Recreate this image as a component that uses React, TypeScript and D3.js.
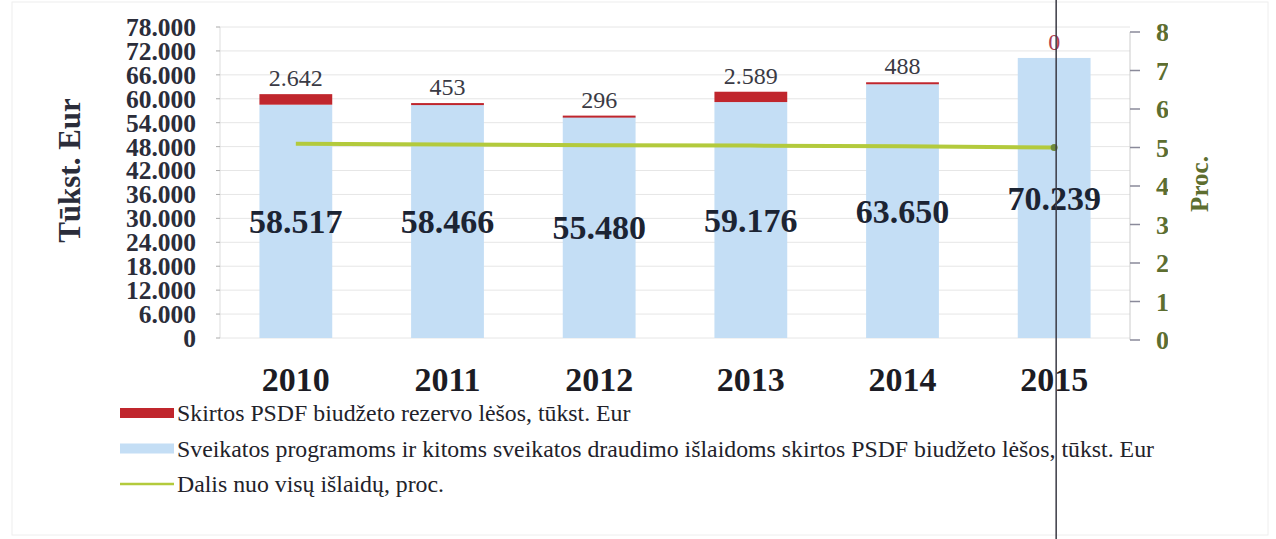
import * as d3 from 'd3';

const years = ['2010', '2011', '2012', '2013', '2014', '2015'];
// Sveikatos programoms... (tūkst. Eur)
const baseValues = [58517, 58466, 55480, 59176, 63650, 70239];
// Skirtos PSDF biudžeto rezervo lėšos (tūkst. Eur)
const reserveValues = [2642, 453, 296, 2589, 488, 0];
// Dalis nuo visų išlaidų, proc.
const shareValues = [5.1, 5.08, 5.06, 5.05, 5.03, 5.0];

const leftTicks = [0, 6000, 12000, 18000, 24000, 30000, 36000, 42000, 48000, 54000, 60000, 66000, 72000, 78000];
const rightTicks = [0, 1, 2, 3, 4, 5, 6, 7, 8];

const legendItems = [
    { label: 'Skirtos PSDF biudžeto rezervo lėšos, tūkst. Eur', color: '#c0262d', kind: 'bar' },
    { label: 'Sveikatos programoms ir kitoms sveikatos draudimo išlaidoms skirtos PSDF biudžeto lėšos, tūkst. Eur', color: '#c4def5', kind: 'bar' },
    { label: 'Dalis nuo visų išlaidų, proc.', color: '#b3ca3c', kind: 'line' },
];

const W = 1276;
const H = 539;
const plot = { left: 220, right: 1130, top: 27, bottom: 338 };

const fmt = (v: number) => d3.format(',')(v).replace(/,/g, '.');

export default function App() {
    const x = d3.scaleBand<string>().domain(years).range([plot.left, plot.right]).paddingInner(0.52).paddingOuter(0.26);
    const y = d3.scaleLinear().domain([0, 78000]).range([plot.bottom, plot.top]);
    const y2 = d3.scaleLinear().domain([0, 8]).range([plot.bottom + 2, 32]);
    const cx = (yr: string) => (x(yr) as number) + x.bandwidth() / 2;

    const line = d3
        .line<number>()
        .x((_, i) => cx(years[i]))
        .y((d) => y2(d));

    return (
        <svg
            width={W}
            height={H}
            style={{ position: 'absolute', left: 0, top: 0, background: '#fff', fontFamily: '"Liberation Serif", "Times New Roman", serif' }}
        >
            <defs>
                <clipPath id="rclip">
                    <rect x={1140} y={0} width={28} height={H} />
                </clipPath>
            </defs>
            <rect x={12} y={2} width={W - 20} height={H - 6} fill="none" stroke="#eeeeee" />

            {/* gridlines */}
            {leftTicks.map((t) => (
                <line key={t} x1={plot.left} x2={plot.right} y1={y(t)} y2={y(t)} stroke="#e6e6e6" strokeWidth={1} />
            ))}

            {/* left axis */}
            <line x1={plot.left} x2={plot.left} y1={plot.top} y2={plot.bottom} stroke="#dddddd" />
            {leftTicks.map((t) => (
                <g key={'l' + t}>
                    <line x1={plot.left - 4} x2={plot.left} y1={y(t)} y2={y(t)} stroke="#aaaaaa" />
                    <text x={196} y={y(t)} dy="0.35em" textAnchor="end" fontSize={25.5} fontWeight="bold" fill="#2b2d3a">
                        {fmt(t)}
                    </text>
                </g>
            ))}
            <text
                transform={`translate(80,${(plot.top + plot.bottom) / 2 - 12}) rotate(-90)`}
                textAnchor="middle"
                fontSize={31}
                fontWeight="bold"
                fill="#2b2d3a"
            >
                Tūkst. Eur
            </text>

            {/* bars */}
            {years.map((yr, i) => (
                <g key={yr}>
                    <rect
                        x={x(yr)}
                        y={y(baseValues[i])}
                        width={x.bandwidth()}
                        height={y(0) - y(baseValues[i])}
                        fill="#c4def5"
                    />
                    {reserveValues[i] > 0 && (
                        <rect
                            x={x(yr)}
                            y={y(baseValues[i] + reserveValues[i])}
                            width={x.bandwidth()}
                            height={Math.max(2, y(baseValues[i]) - y(baseValues[i] + reserveValues[i]))}
                            fill="#c0262d"
                        />
                    )}
                </g>
            ))}

            {/* share line */}
            <path d={line(shareValues) as string} fill="none" stroke="#b3ca3c" strokeWidth={4} />
            <circle cx={cx('2015')} cy={y2(shareValues[5])} r={3.5} fill="#6f8a3a" />

            {/* right axis */}
            <line x1={plot.right} x2={plot.right} y1={32} y2={plot.bottom + 2} stroke="#cccccc" />
            {rightTicks.map((t) => (
                <line key={'rt' + t} x1={plot.right} x2={plot.right + 10} y1={y2(t)} y2={y2(t)} stroke="#8a8a9a" strokeWidth={1.5} />
            ))}
            <g clipPath="url(#rclip)">
                {rightTicks.map((t) => (
                    <text key={'r' + t} x={1156} y={y2(t)} dy="0.35em" fontSize={26} fontWeight="bold" fill="#5d6e30">
                        {t}
                    </text>
                ))}
            </g>
            <text
                transform={`translate(1208,${y2(4) - 2}) rotate(-90)`}
                textAnchor="middle"
                fontSize={25}
                fontWeight="bold"
                fill="#5d6e30"
            >
                Proc.
            </text>

            {/* value labels */}
            {years.map((yr, i) => (
                <g key={'v' + yr}>
                    <text
                        x={cx(yr)}
                        y={y(baseValues[i] / 2)}
                        dy="0.35em"
                        textAnchor="middle"
                        fontSize={34}
                        fontWeight="bold"
                        fill="#1c2433"
                    >
                        {fmt(baseValues[i])}
                    </text>
                    <text
                        x={cx(yr)}
                        y={y(baseValues[i] + reserveValues[i]) - 8}
                        textAnchor="middle"
                        fontSize={24}
                        fill={reserveValues[i] === 0 ? '#b04050' : '#3a3a44'}
                    >
                        {fmt(reserveValues[i])}
                    </text>
                </g>
            ))}

            {/* x labels */}
            {years.map((yr) => (
                <text key={'x' + yr} x={cx(yr)} y={391} textAnchor="middle" fontSize={34} fontWeight="bold" fill="#1c1c24">
                    {yr}
                </text>
            ))}

            {/* vertical crease in the scan */}
            <line x1={cx('2015') + 2} x2={cx('2015') + 2} y1={0} y2={H} stroke="#3a3a44" strokeWidth={1.5} />

            {/* legend */}
            {legendItems.map((it, i) => {
                const ly = 413 + i * 35.5;
                return (
                    <g key={it.label}>
                        {it.kind === 'bar' ? (
                            <rect x={120} y={ly - 5} width={54} height={10} fill={it.color} />
                        ) : (
                            <line x1={120} x2={174} y1={ly} y2={ly} stroke={it.color} strokeWidth={2.5} />
                        )}
                        <text x={177} y={ly} dy="0.35em" fontSize={23.8} fill="#22222a">
                            {it.label}
                        </text>
                    </g>
                );
            })}
        </svg>
    );
}
